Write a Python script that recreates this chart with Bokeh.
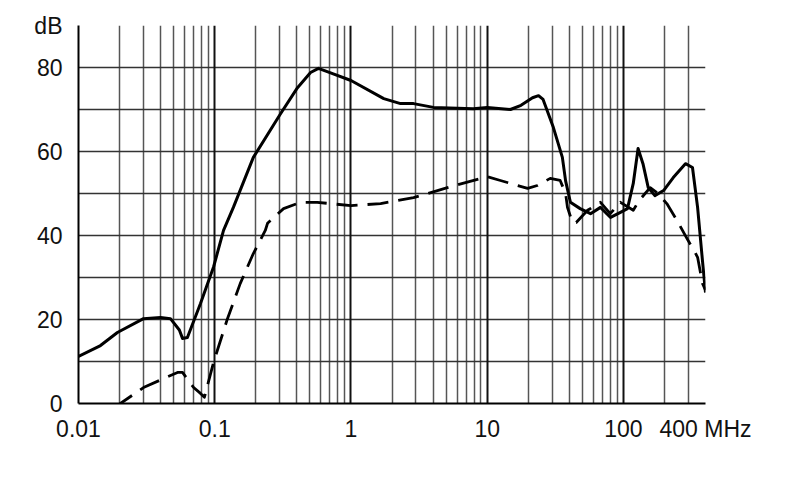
from bokeh.plotting import figure
from bokeh.models import (Range1d, FixedTicker, CustomJSTickFormatter, Grid)
from bokeh.embed import file_html
from bokeh.resources import INLINE

# ---- data ----
solid_f = [0.01, 0.0145, 0.0193, 0.030, 0.040, 0.0473, 0.055, 0.058, 0.063, 0.0786, 0.098,
           0.116, 0.137, 0.192, 0.304, 0.405, 0.505, 0.577, 0.70, 1.0, 1.74, 2.31, 2.88,
           4.03, 7.9, 10.0, 14.8, 17.7, 21.5, 23.8, 25.7, 30.6, 35.6, 37.6, 40.8, 48.1,
           57.3, 67.8, 80.4, 95.0, 107, 118, 128, 139, 152, 170, 197, 232, 285, 321, 350,
           380, 400]
solid_db = [11.2, 13.8, 16.9, 20.2, 20.5, 20.2, 17.5, 15.5, 15.7, 23.8, 32.5,
            41.2, 46.7, 58.6, 69.0, 75.2, 78.8, 79.8, 78.8, 76.9, 72.6, 71.4, 71.4,
            70.5, 70.2, 70.5, 70.0, 71.0, 72.8, 73.3, 72.4, 65.7, 58.6, 53.0, 47.9, 46.4,
            45.2, 46.7, 44.3, 45.5, 46.4, 52.4, 60.7, 57.1, 51.4, 49.5, 50.7, 53.8, 57.1, 56.2, 46.7,
            34.0, 26.4]

dash_f = [0.0185, 0.0203, 0.030, 0.0533, 0.058, 0.070, 0.0786, 0.084, 0.098, 0.124, 0.154,
          0.192, 0.235, 0.244, 0.32, 0.425, 0.565, 1.0, 1.65, 2.88, 5.1, 10.0, 12.5, 19.8,
          23.3, 29.0, 34.3, 37.6, 38.8, 42.2, 45.0, 54.5, 67.8, 80.0, 95.0, 118, 130, 157,
          176, 208, 247, 290, 335, 350, 380, 400]
dash_db = [-1.0, 0.0, 3.8, 7.4, 7.4, 3.8, 2.4, 1.5, 9.8, 20.2, 28.6,
           35.7, 41.2, 42.9, 46.4, 47.9, 47.9, 47.1, 47.6, 49.0, 51.4, 54.0, 53.1, 51.2,
           51.9, 53.6, 53.1, 50.0, 46.7, 43.1, 43.1, 46.0, 47.9, 45.2, 47.9, 46.0, 48.3, 51.4,
           50.2, 47.6, 43.6, 39.5, 36.0, 34.8, 28.6, 27.0]

x_ticks = [0.01, 0.1, 1, 10, 100, 400]
x_labels = ["0.01", "0.1", "1", "10", "100", "400 MHz"]
y_ticks = [0, 20, 40, 60, 80, 90]
y_labels = ["0", "20", "40", "60", "80", "dB"]

# grid positions: every 2..9 within each decade, plus 200/300/400
minor_x = []
for dec in [0.01, 0.1, 1, 10]:
    for k in range(2, 10):
        minor_x.append(round(k * dec, 6))
minor_x += [200, 300, 400]
decade_x = [0.1, 1, 10, 100]
grid_y = [10, 20, 30, 40, 50, 60, 70, 80, 90]

FONT = "Liberation Sans"

p = figure(width=772, height=470, x_axis_type="log",
           x_range=Range1d(0.01, 400), y_range=Range1d(0, 90),
           output_backend="svg", toolbar_location=None,
           min_border_left=78, min_border_top=25, min_border_right=67,
           min_border_bottom=67)
p.outline_line_color = None
p.background_fill_color = "white"
p.xgrid.visible = False
p.ygrid.visible = False

g1 = Grid(dimension=0, ticker=FixedTicker(ticks=minor_x),
          grid_line_color="#555555", grid_line_width=1.5)
g2 = Grid(dimension=0, ticker=FixedTicker(ticks=decade_x),
          grid_line_color="#111111", grid_line_width=2)
g3 = Grid(dimension=1, ticker=FixedTicker(ticks=grid_y),
          grid_line_color="#333333", grid_line_width=1.5)
for g in (g1, g3, g2):
    p.add_layout(g)

xa = p.xaxis[0]
xa.ticker = FixedTicker(ticks=x_ticks)
xa.formatter = CustomJSTickFormatter(args=dict(t=x_ticks, l=x_labels),
    code="for (let i = 0; i < t.length; i++) { if (Math.abs(Math.log10(tick) - Math.log10(t[i])) < 1e-6) return l[i]; } return '';")
ya = p.yaxis[0]
ya.ticker = FixedTicker(ticks=y_ticks)
ya.formatter = CustomJSTickFormatter(args=dict(t=y_ticks, l=y_labels),
    code="for (let i = 0; i < t.length; i++) { if (Math.abs(tick - t[i]) < 1e-6) return l[i]; } return '';")

for ax in (xa, ya):
    ax.axis_line_color = "black"
    ax.axis_line_width = 2
    ax.major_tick_line_color = None
    ax.minor_tick_line_color = None
    ax.major_label_text_font = FONT
    ax.major_label_text_font_size = "23px"
    ax.major_label_text_color = "#111111"
xa.major_label_standoff = 6
ya.major_label_standoff = 10

p.line(solid_f, solid_db, line_color="black", line_width=3, line_join="round")
p.line(dash_f, dash_db, line_color="black", line_width=2.8, line_dash="21 10",
       line_join="round")

open("out.html", "w").write(file_html(p, INLINE))
